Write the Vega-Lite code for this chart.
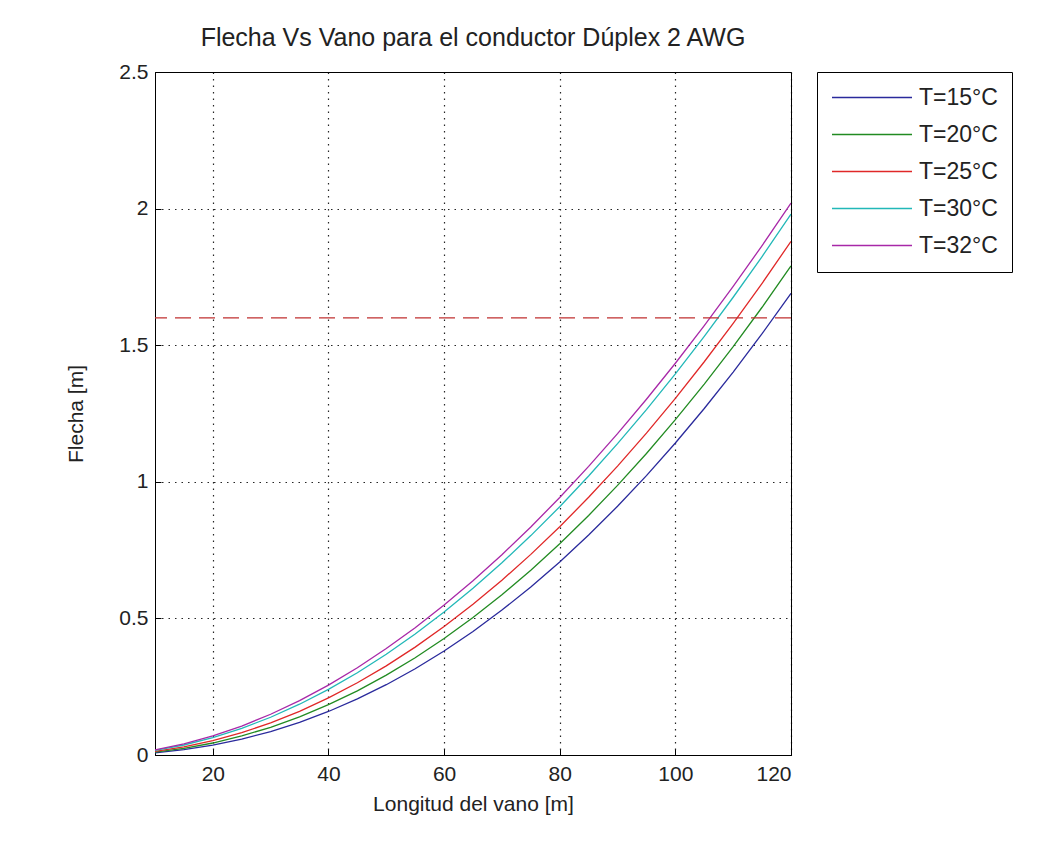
{
  "$schema": "https://vega.github.io/schema/vega-lite/v6.json",
  "width": 636,
  "height": 683,
  "autosize": {"type": "none"},
  "padding": {"left": 155, "top": 72, "right": 250, "bottom": 87},
  "background": "white",
  "config": {
    "font": "Liberation Sans",
    "view": {"stroke": "black", "strokeWidth": 1},
    "axis": {
      "labelFont": "Liberation Sans",
      "titleFont": "Liberation Sans",
      "labelFontSize": 21,
      "titleFontSize": 21,
      "labelColor": "#222222",
      "titleColor": "#222222",
      "titleFontWeight": "normal",
      "domainColor": "black",
      "tickColor": "black",
      "gridColor": "black",
      "gridDash": [1.5, 5],
      "gridOpacity": 0.85,
      "gridWidth": 1.2
    }
  },
  "title": {
    "text": "Flecha Vs Vano para el conductor Dúplex 2 AWG",
    "font": "Liberation Sans",
    "fontSize": 25,
    "fontWeight": "normal",
    "color": "#222222",
    "anchor": "middle",
    "offset": 10
  },
  "datasets": {
    "curvas": [
      {"vano": 10, "flecha": 0.0081, "serie": "T=15°C"},
      {"vano": 15, "flecha": 0.0193, "serie": "T=15°C"},
      {"vano": 20, "flecha": 0.0359, "serie": "T=15°C"},
      {"vano": 25, "flecha": 0.0580, "serie": "T=15°C"},
      {"vano": 30, "flecha": 0.0858, "serie": "T=15°C"},
      {"vano": 35, "flecha": 0.1196, "serie": "T=15°C"},
      {"vano": 40, "flecha": 0.1593, "serie": "T=15°C"},
      {"vano": 45, "flecha": 0.2052, "serie": "T=15°C"},
      {"vano": 50, "flecha": 0.2573, "serie": "T=15°C"},
      {"vano": 55, "flecha": 0.3158, "serie": "T=15°C"},
      {"vano": 60, "flecha": 0.3808, "serie": "T=15°C"},
      {"vano": 65, "flecha": 0.4523, "serie": "T=15°C"},
      {"vano": 70, "flecha": 0.5304, "serie": "T=15°C"},
      {"vano": 75, "flecha": 0.6152, "serie": "T=15°C"},
      {"vano": 80, "flecha": 0.7068, "serie": "T=15°C"},
      {"vano": 85, "flecha": 0.8053, "serie": "T=15°C"},
      {"vano": 90, "flecha": 0.9104, "serie": "T=15°C"},
      {"vano": 95, "flecha": 1.0228, "serie": "T=15°C"},
      {"vano": 100, "flecha": 1.1421, "serie": "T=15°C"},
      {"vano": 105, "flecha": 1.2683, "serie": "T=15°C"},
      {"vano": 110, "flecha": 1.4016, "serie": "T=15°C"},
      {"vano": 115, "flecha": 1.5421, "serie": "T=15°C"},
      {"vano": 120, "flecha": 1.69, "serie": "T=15°C"},
      {"vano": 10, "flecha": 0.0105, "serie": "T=20°C"},
      {"vano": 15, "flecha": 0.0242, "serie": "T=20°C"},
      {"vano": 20, "flecha": 0.0439, "serie": "T=20°C"},
      {"vano": 25, "flecha": 0.0696, "serie": "T=20°C"},
      {"vano": 30, "flecha": 0.1015, "serie": "T=20°C"},
      {"vano": 35, "flecha": 0.1397, "serie": "T=20°C"},
      {"vano": 40, "flecha": 0.1842, "serie": "T=20°C"},
      {"vano": 45, "flecha": 0.2350, "serie": "T=20°C"},
      {"vano": 50, "flecha": 0.2923, "serie": "T=20°C"},
      {"vano": 55, "flecha": 0.3560, "serie": "T=20°C"},
      {"vano": 60, "flecha": 0.4263, "serie": "T=20°C"},
      {"vano": 65, "flecha": 0.5031, "serie": "T=20°C"},
      {"vano": 70, "flecha": 0.5865, "serie": "T=20°C"},
      {"vano": 75, "flecha": 0.6766, "serie": "T=20°C"},
      {"vano": 80, "flecha": 0.7732, "serie": "T=20°C"},
      {"vano": 85, "flecha": 0.8768, "serie": "T=20°C"},
      {"vano": 90, "flecha": 0.9868, "serie": "T=20°C"},
      {"vano": 95, "flecha": 1.1036, "serie": "T=20°C"},
      {"vano": 100, "flecha": 1.2273, "serie": "T=20°C"},
      {"vano": 105, "flecha": 1.3578, "serie": "T=20°C"},
      {"vano": 110, "flecha": 1.4950, "serie": "T=20°C"},
      {"vano": 115, "flecha": 1.6389, "serie": "T=20°C"},
      {"vano": 120, "flecha": 1.79, "serie": "T=20°C"},
      {"vano": 10, "flecha": 0.0131, "serie": "T=25°C"},
      {"vano": 15, "flecha": 0.0294, "serie": "T=25°C"},
      {"vano": 20, "flecha": 0.0522, "serie": "T=25°C"},
      {"vano": 25, "flecha": 0.0816, "serie": "T=25°C"},
      {"vano": 30, "flecha": 0.1175, "serie": "T=25°C"},
      {"vano": 35, "flecha": 0.1599, "serie": "T=25°C"},
      {"vano": 40, "flecha": 0.2089, "serie": "T=25°C"},
      {"vano": 45, "flecha": 0.2644, "serie": "T=25°C"},
      {"vano": 50, "flecha": 0.3264, "serie": "T=25°C"},
      {"vano": 55, "flecha": 0.3949, "serie": "T=25°C"},
      {"vano": 60, "flecha": 0.4700, "serie": "T=25°C"},
      {"vano": 65, "flecha": 0.5516, "serie": "T=25°C"},
      {"vano": 70, "flecha": 0.6397, "serie": "T=25°C"},
      {"vano": 75, "flecha": 0.7344, "serie": "T=25°C"},
      {"vano": 80, "flecha": 0.8356, "serie": "T=25°C"},
      {"vano": 85, "flecha": 0.9433, "serie": "T=25°C"},
      {"vano": 90, "flecha": 1.0575, "serie": "T=25°C"},
      {"vano": 95, "flecha": 1.1783, "serie": "T=25°C"},
      {"vano": 100, "flecha": 1.3056, "serie": "T=25°C"},
      {"vano": 105, "flecha": 1.4394, "serie": "T=25°C"},
      {"vano": 110, "flecha": 1.5797, "serie": "T=25°C"},
      {"vano": 115, "flecha": 1.7266, "serie": "T=25°C"},
      {"vano": 120, "flecha": 1.88, "serie": "T=25°C"},
      {"vano": 10, "flecha": 0.0168, "serie": "T=30°C"},
      {"vano": 15, "flecha": 0.0366, "serie": "T=30°C"},
      {"vano": 20, "flecha": 0.0635, "serie": "T=30°C"},
      {"vano": 25, "flecha": 0.0975, "serie": "T=30°C"},
      {"vano": 30, "flecha": 0.1382, "serie": "T=30°C"},
      {"vano": 35, "flecha": 0.1859, "serie": "T=30°C"},
      {"vano": 40, "flecha": 0.2403, "serie": "T=30°C"},
      {"vano": 45, "flecha": 0.3012, "serie": "T=30°C"},
      {"vano": 50, "flecha": 0.3687, "serie": "T=30°C"},
      {"vano": 55, "flecha": 0.4427, "serie": "T=30°C"},
      {"vano": 60, "flecha": 0.5233, "serie": "T=30°C"},
      {"vano": 65, "flecha": 0.6101, "serie": "T=30°C"},
      {"vano": 70, "flecha": 0.7034, "serie": "T=30°C"},
      {"vano": 75, "flecha": 0.8031, "serie": "T=30°C"},
      {"vano": 80, "flecha": 0.9089, "serie": "T=30°C"},
      {"vano": 85, "flecha": 1.0214, "serie": "T=30°C"},
      {"vano": 90, "flecha": 1.1397, "serie": "T=30°C"},
      {"vano": 95, "flecha": 1.2644, "serie": "T=30°C"},
      {"vano": 100, "flecha": 1.3953, "serie": "T=30°C"},
      {"vano": 105, "flecha": 1.5324, "serie": "T=30°C"},
      {"vano": 110, "flecha": 1.6755, "serie": "T=30°C"},
      {"vano": 115, "flecha": 1.8245, "serie": "T=30°C"},
      {"vano": 120, "flecha": 1.98, "serie": "T=30°C"},
      {"vano": 10, "flecha": 0.0189, "serie": "T=32°C"},
      {"vano": 15, "flecha": 0.0405, "serie": "T=32°C"},
      {"vano": 20, "flecha": 0.0696, "serie": "T=32°C"},
      {"vano": 25, "flecha": 0.1058, "serie": "T=32°C"},
      {"vano": 30, "flecha": 0.1491, "serie": "T=32°C"},
      {"vano": 35, "flecha": 0.1992, "serie": "T=32°C"},
      {"vano": 40, "flecha": 0.2560, "serie": "T=32°C"},
      {"vano": 45, "flecha": 0.3196, "serie": "T=32°C"},
      {"vano": 50, "flecha": 0.3896, "serie": "T=32°C"},
      {"vano": 55, "flecha": 0.4659, "serie": "T=32°C"},
      {"vano": 60, "flecha": 0.5488, "serie": "T=32°C"},
      {"vano": 65, "flecha": 0.6379, "serie": "T=32°C"},
      {"vano": 70, "flecha": 0.7333, "serie": "T=32°C"},
      {"vano": 75, "flecha": 0.8348, "serie": "T=32°C"},
      {"vano": 80, "flecha": 0.9425, "serie": "T=32°C"},
      {"vano": 85, "flecha": 1.0564, "serie": "T=32°C"},
      {"vano": 90, "flecha": 1.1761, "serie": "T=32°C"},
      {"vano": 95, "flecha": 1.3021, "serie": "T=32°C"},
      {"vano": 100, "flecha": 1.4339, "serie": "T=32°C"},
      {"vano": 105, "flecha": 1.5716, "serie": "T=32°C"},
      {"vano": 110, "flecha": 1.7151, "serie": "T=32°C"},
      {"vano": 115, "flecha": 1.8645, "serie": "T=32°C"},
      {"vano": 120, "flecha": 2.02, "serie": "T=32°C"}
    ],
    "limite": [{"flecha": 1.6}]
  },
  "layer": [
    {
      "data": {"name": "curvas"},
      "mark": {"type": "line", "strokeWidth": 1.3, "clip": true},
      "encoding": {
        "x": {
          "field": "vano",
          "type": "quantitative",
          "scale": {"domain": [10, 120], "nice": false, "zero": false},
          "axis": {
            "title": "Longitud del vano [m]",
            "values": [20, 40, 60, 80, 100, 120],
            "tickSize": -6,
            "labelPadding": 14,
            "titlePadding": 9,
            "grid": true
          }
        },
        "y": {
          "field": "flecha",
          "type": "quantitative",
          "scale": {"domain": [0, 2.5], "nice": false},
          "axis": {
            "title": "Flecha [m]",
            "values": [0, 0.5, 1, 1.5, 2, 2.5],
            "format": "~g",
            "tickSize": -6,
            "labelPadding": 13,
            "titlePadding": 32,
            "grid": true
          }
        },
        "color": {
          "field": "serie",
          "type": "nominal",
          "scale": {
            "domain": ["T=15°C", "T=20°C", "T=25°C", "T=30°C", "T=32°C"],
            "range": ["#2a2a9c", "#228b22", "#e02828", "#22b8b8", "#a828a8"]
          },
          "legend": {
            "title": null,
            "orient": "none",
            "legendX": 662,
            "legendY": 0,
            "direction": "vertical",
            "strokeColor": "black",
            "fillColor": "white",
            "padding": 14,
            "clipHeight": 23,
            "symbolType": "stroke",
            "symbolSize": 6400,
            "symbolStrokeWidth": 1.5,
            "symbolOpacity": 1,
            "labelFont": "Liberation Sans",
            "labelFontSize": 23,
            "labelColor": "#222222",
            "labelOffset": 6,
            "rowPadding": 13
          }
        }
      }
    },
    {
      "data": {"name": "limite"},
      "mark": {"type": "rule", "color": "#c03030", "strokeWidth": 1.3, "strokeDash": [16, 8]},
      "encoding": {
        "y": {"field": "flecha", "type": "quantitative"}
      }
    }
  ]
}
